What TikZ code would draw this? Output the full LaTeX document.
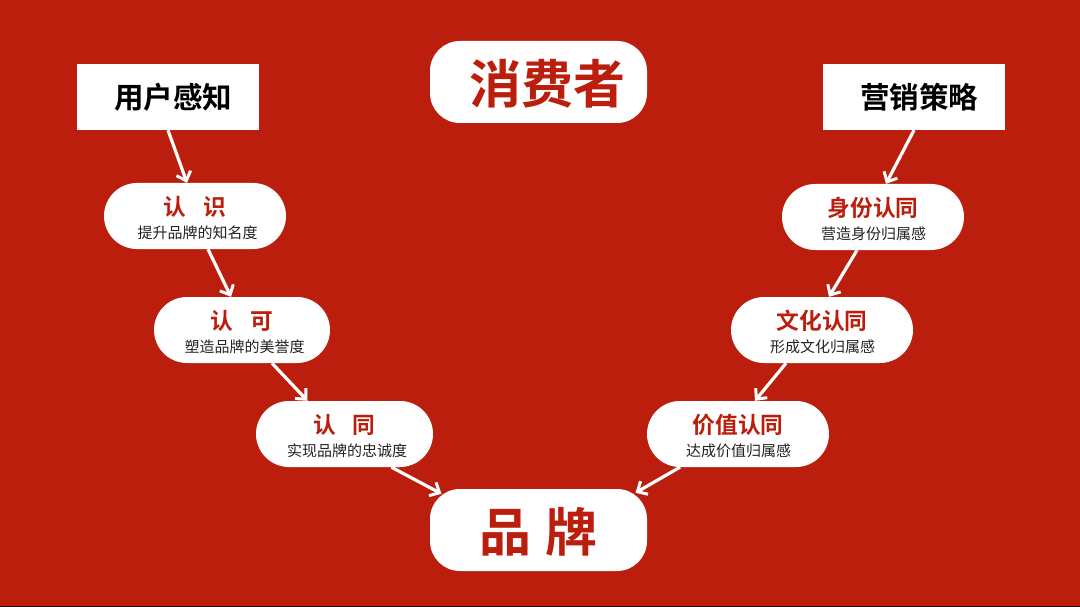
\documentclass[tikz,border=0pt]{standalone}
\usepackage{fontspec}
\setmainfont{Noto Sans CJK SC}
\newfontfamily\cjkbold{Noto Sans CJK SC Bold}
\usetikzlibrary{arrows.meta,shapes.misc}
\definecolor{brandred}{HTML}{BC1E0D}
\definecolor{subgray}{HTML}{222222}
\newcommand{\tline}[1]{{\fontsize{22.7}{26}\cjkbold\color{brandred}#1}}
\newcommand{\sline}[1]{{\fontsize{15}{18}\selectfont\color{subgray}#1}}
\newcommand{\twolines}[3]{\raisebox{-10.75pt}[0pt][0pt]{\tline{#1}}\\[11.5pt]\raisebox{-10.75pt}[0pt][0pt]{\hspace*{#3}\sline{#2}}}
\tikzset{
  x=1pt,y=-1pt,
  pill/.style={fill=white,rounded rectangle,minimum width=182pt,minimum height=66pt,inner sep=0pt,align=center},
  bigpill/.style={fill=white,rounded corners=30pt,minimum width=217pt,minimum height=82pt,inner sep=0pt,align=center,text=brandred,font=\fontsize{52}{56}\cjkbold},
  sqbox/.style={fill=white,minimum width=182pt,minimum height=66pt,inner sep=0pt,align=center,font=\fontsize{29.5}{34}\cjkbold,text=black},
  link/.style={draw=white,line width=3.2pt,-{Straight Barb[length=8pt,width=15pt,line width=3pt]}}
}
\begin{document}
\begin{tikzpicture}
\useasboundingbox (0,0) rectangle (1080,607);
\fill[brandred] (0,0) rectangle (1080,607);
\draw[black!75!brandred,line width=1pt] (0,606.5) -- (1080,606.5);
\node[bigpill] (cons) at (538.5,82) {\hspace*{18pt}\raisebox{-22pt}[0pt][0pt]{消费者}};
\node[bigpill] (brand) at (538.5,530) {\raisebox{-21pt}[0pt][0pt]{品\hspace{15pt}牌}};
\node[sqbox] (user) at (168,97) {\hspace*{10pt}用户感知};
\node[sqbox] (mkt) at (914,97) {\hspace*{10pt}营销策略};
\node[pill] (a1) at (195,216) {\twolines{认\hspace{17pt}识}{提升品牌的知名度}{5pt}};
\node[pill,minimum width=176pt] (a2) at (242,330) {\twolines{认\hspace{17pt}可}{塑造品牌的美誉度}{5pt}};
\node[pill,minimum width=177pt] (a3) at (344.5,434) {\twolines{认\hspace{17pt}同}{实现品牌的忠诚度}{5pt}};
\node[pill] (b1) at (873,217) {\twolines{身份认同}{营造身份归属感}{1pt}};
\node[pill] (b2) at (822,330) {\twolines{文化认同}{形成文化归属感}{1pt}};
\node[pill] (b3) at (738,434) {\twolines{价值认同}{达成价值归属感}{1pt}};
\draw[link] ([xshift=0pt]user.south) -- ([xshift=-8pt]a1.north);
\draw[link] ([xshift=13pt]a1.south) -- ([xshift=-11pt]a2.north);
\draw[link] ([xshift=30pt]a2.south) -- ([xshift=-37pt]a3.north);
\draw[link] ([xshift=47pt]a3.south) -- ([xshift=-97pt,yshift=-5pt]brand.north);
\draw[link] ([xshift=0pt]mkt.south) -- ([xshift=13pt]b1.north);
\draw[link] ([xshift=-16pt]b1.south) -- ([xshift=7pt]b2.north);
\draw[link] ([xshift=-36pt]b2.south) -- ([xshift=17pt]b3.north);
\draw[link] ([xshift=-58pt]b3.south) -- ([xshift=97pt,yshift=-4pt]brand.north);
\end{tikzpicture}
\end{document}
